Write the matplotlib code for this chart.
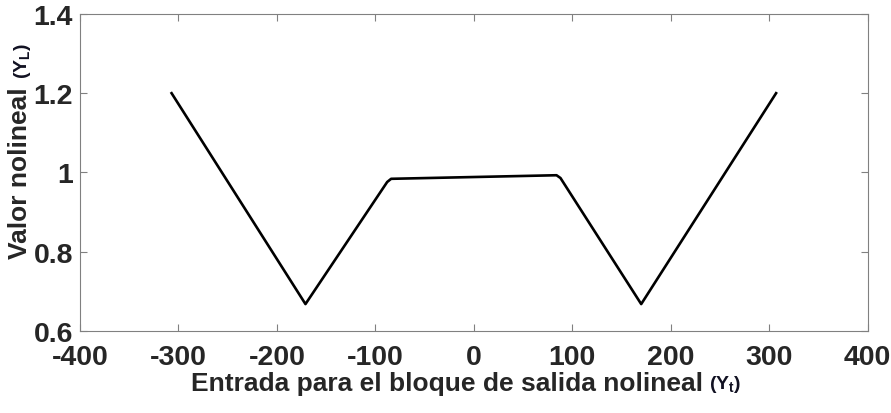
import matplotlib.pyplot as plt

plt.rcParams['font.family'] = ['Liberation Sans', 'DejaVu Sans']
plt.rcParams['mathtext.fontset'] = 'custom'
plt.rcParams['mathtext.bf'] = 'Liberation Sans:bold'
plt.rcParams['mathtext.rm'] = 'Liberation Sans:bold'

# curve
entrada = [-307, -171, -88, -84, 84, 88, 170, 307]
valor = [1.2, 0.668, 0.976, 0.984, 0.993, 0.986, 0.668, 1.2]

xticks = [-400, -300, -200, -100, 0, 100, 200, 300, 400]
yticks = [0.6, 0.8, 1.0, 1.2, 1.4]
ytick_labels = ['0.6', '0.8', '1', '1.2', '1.4']

fig = plt.figure(figsize=(8.91, 4.14), dpi=100)
ax = fig.add_axes([0.0898, 0.198, 0.884, 0.766])

ax.plot(entrada, valor, color='black', linewidth=1.9)

ax.set_xlim(-400, 400)
ax.set_ylim(0.6, 1.4)
ax.set_xticks(xticks)
ax.set_xticklabels([str(t) for t in xticks])
ax.set_yticks(yticks)
ax.set_yticklabels(ytick_labels)

txt = '#262626'
ax.tick_params(direction='in', length=5, width=0.8, color='#808080',
               top=True, right=True, labelsize=20.5, labelcolor=txt)
ax.tick_params(axis='x', pad=9)
ax.tick_params(axis='y', pad=5)
for lbl in ax.get_xticklabels() + ax.get_yticklabels():
    lbl.set_fontweight('bold')
for s in ax.spines.values():
    s.set_color('#808080')
    s.set_linewidth(0.8)

# axis labels with the small (Y) tags after them
xl = ax.set_xlabel('Entrada para el bloque de salida nolineal', fontsize=19,
                   fontweight='bold', color=txt)
ax.xaxis.set_label_coords(0.466, -0.127)
yl = ax.set_ylabel('Valor nolineal', fontsize=19, fontweight='bold', color=txt)
ax.yaxis.set_label_coords(-0.061, 0.5)

ax.annotate(r'$\mathbf{(Y_t)}$', xy=(1, 0), xycoords=xl, xytext=(4, 1),
            textcoords='offset points', fontsize=14, color='#111122',
            ha='left', va='bottom')
ax.annotate(r'$\mathbf{(Y_L)}$', xy=(1, 1), xycoords=yl, xytext=(1, 6),
            textcoords='offset points', fontsize=14, color='#111122',
            ha='right', va='bottom', rotation=90)

fig.savefig('out.png', dpi=100)
